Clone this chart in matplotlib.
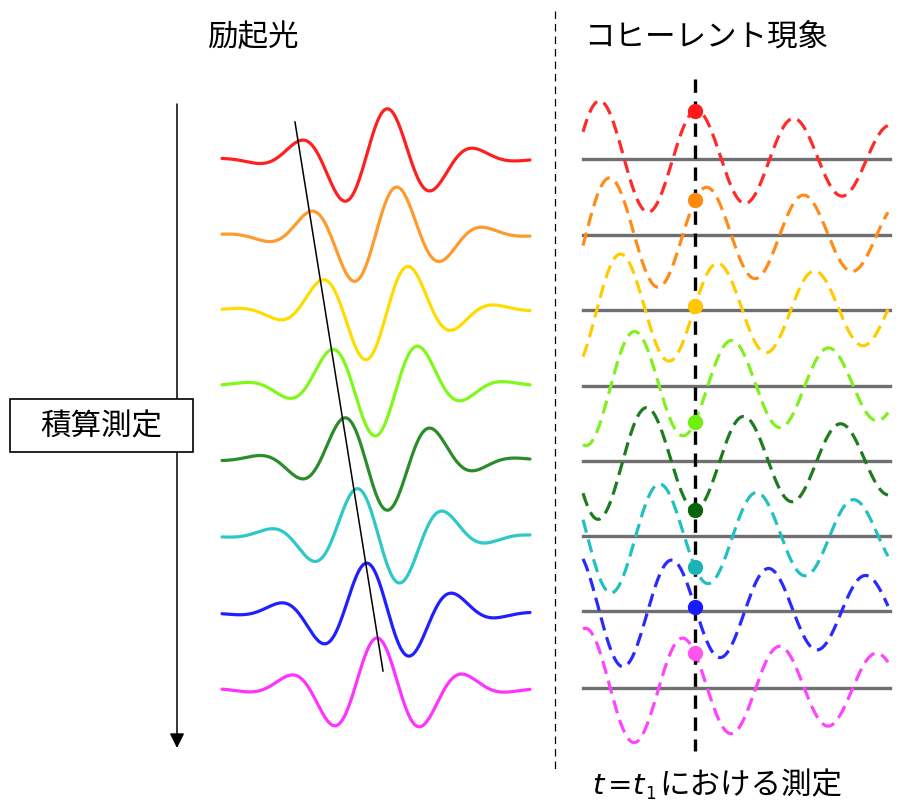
import numpy as np
import matplotlib.pyplot as plt
from matplotlib.patches import Rectangle

plt.rcParams['font.family'] = ['Noto Sans CJK JP', 'DejaVu Sans']

# --- left: excitation pulses (Gaussian envelope, carrier shifted per shot)
left_colors = ['#ff1f1f', '#ff9a2e', '#ffdc00', '#80f81a', '#2a8c2a', '#2ec8c8', '#1f1fff', '#ff33ff']
left_base = [160, 236, 311, 386, 461, 537, 614, 690]
left_peak_x = [298, 308, 320, 330, 343, 356, 366, 377]
env_center = 378
env_width = 55
env_amp = 51
left_period = 90
left_x_range = [222, 530]

# slanted guide line through the pulse peaks
phase_line_x = [295, 383]
phase_line_y = [123, 672]

# --- right: coherent oscillations (damped cosine)
right_colors = ['#ff2a2a', '#ff8c1a', '#ffcc00', '#80f020', '#1e7b1e', '#22c0c0', '#2a2aff', '#ff44ff']
dot_colors = ['#ff1a1a', '#ff8a10', '#ffc800', '#70f010', '#0a640a', '#1ab4b4', '#1a1aff', '#ff55ee']
right_base = [160, 236, 311, 387, 462, 537, 612, 689]
right_peak_x = [600, 610, 621, 635, 647, 660, 672, 683]
osc_amp = 60
osc_decay = 540
right_period = 97
right_x_range = [583, 888]
t1_x = 695

fig = plt.figure(figsize=(9.15, 8.03), dpi=100)
ax = fig.add_axes([0, 0, 1, 1])
ax.set_xlim(0, 915)
ax.set_ylim(803, 0)
ax.axis('off')

# left pulses
xl = np.linspace(left_x_range[0], left_x_range[1], 600)
for base, px, c in zip(left_base, left_peak_x, left_colors):
    env = env_amp * np.exp(-(xl - env_center) ** 2 / (2 * env_width ** 2))
    y = base - env * np.cos(2 * np.pi * (xl - px) / left_period)
    ax.plot(xl, y, color=c, lw=2.3, solid_capstyle='round', zorder=2)

ax.plot(phase_line_x, phase_line_y, color='black', lw=1.1, zorder=3)

# right oscillations
xr = np.linspace(right_x_range[0], right_x_range[1], 600)
for base in right_base:
    ax.plot([right_x_range[0], right_x_range[1] + 2], [base, base], color='#5f5f5f', lw=2.4, alpha=0.9, zorder=1)

for base, px, c in zip(right_base, right_peak_x, right_colors):
    amp = osc_amp * np.exp(-(xr - right_x_range[0]) / osc_decay)
    y = base - amp * np.cos(2 * np.pi * (xr - px) / right_period)
    ax.plot(xr, y, color=c, lw=2.3, dashes=(4.2, 2.2), zorder=2)

# measurement line and sampled values
ax.plot([t1_x, t1_x], [80, 752], color='black', lw=2.4, dashes=(4, 2.6), zorder=3)
for base, px, c in zip(right_base, right_peak_x, dot_colors):
    amp = osc_amp * np.exp(-(t1_x - right_x_range[0]) / osc_decay)
    yd = base - amp * np.cos(2 * np.pi * (t1_x - px) / right_period)
    ax.plot(t1_x, yd, 'o', color=c, ms=10, zorder=4)

# divider
ax.plot([555, 555], [12, 770], color='black', lw=0.9, dashes=(6, 4), zorder=1)

# integration arrow and box
ax.annotate('', xy=(177, 749), xytext=(177, 105),
            arrowprops=dict(arrowstyle='-|>', color='black', lw=1.1, mutation_scale=22, shrinkA=0, shrinkB=0))
ax.add_patch(Rectangle((10, 400), 183, 53, facecolor='white', edgecolor='black', lw=1.2, zorder=5))
ax.text(101, 427, '積算測定', fontsize=22, ha='center', va='center', zorder=6)

# titles
ax.text(253, 37, '励起光', fontsize=22, ha='center', va='center')
ax.text(706, 37, 'コヒーレント現象', fontsize=22, ha='center', va='center')

# bottom label: t = t1 における測定
ax.text(592, 786, 't', fontsize=21, style='italic', ha='left', va='center', family='DejaVu Sans')
ax.text(608, 786, '=', fontsize=21, ha='left', va='center', family='DejaVu Sans')
ax.text(632, 786, 't', fontsize=21, style='italic', ha='left', va='center', family='DejaVu Sans')
ax.text(645, 794, '1', fontsize=12, ha='left', va='center', family='DejaVu Sans')
ax.text(659, 786, 'における測定', fontsize=22, ha='left', va='center')

fig.savefig('out.png', dpi=100)
